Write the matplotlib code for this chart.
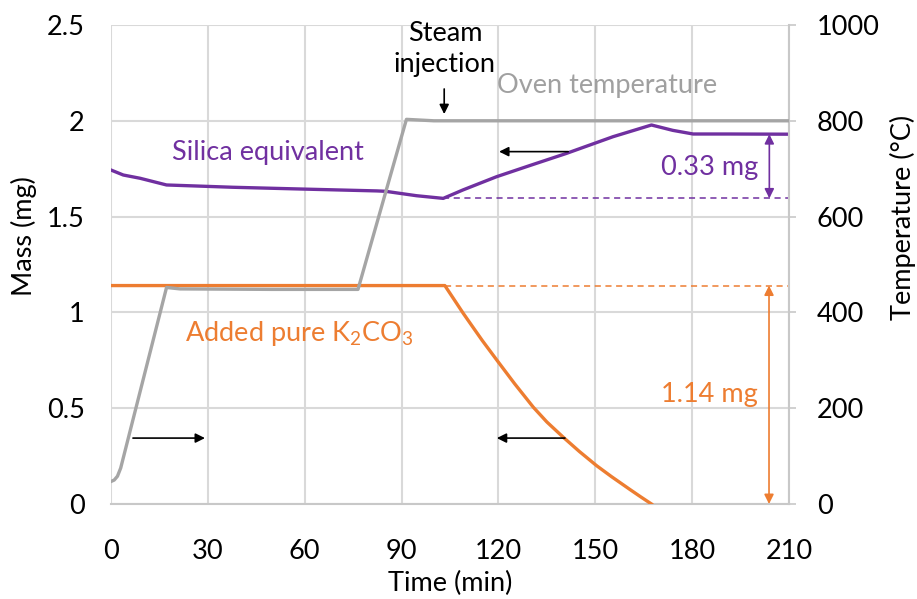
import matplotlib
matplotlib.use("Agg")
import matplotlib.pyplot as plt

plt.rcParams['font.family'] = ['Lato', 'DejaVu Sans']
plt.rcParams['mathtext.default'] = 'regular'

# ---- data ----
oven_time = [0, 1, 2, 3, 17.2, 21.4, 50, 76.5, 91.5, 100, 210]
oven_temp = [47, 50, 58, 75, 452, 449, 448, 448, 803, 800, 800]

silica_time = [0, 3.8, 9, 17.2, 37.8, 58.5, 82.3, 85, 94.6, 102.9, 109, 119.4,
               130, 141.1, 155.5, 167.4, 174, 180.3, 191.7, 210]
silica_mass = [1.743, 1.717, 1.70, 1.665, 1.653, 1.644, 1.634, 1.632, 1.609, 1.595,
               1.639, 1.708, 1.768, 1.830, 1.917, 1.978, 1.950, 1.931, 1.931, 1.930]

k2co3_time = [0, 103.4, 109.1, 112, 115, 119.9, 125, 130.8, 135, 140.1, 145,
              150.4, 155, 160.7, 164, 167.4]
k2co3_mass = [1.14, 1.14, 0.995, 0.925, 0.853, 0.742, 0.628, 0.505, 0.428, 0.348,
              0.275, 0.200, 0.143, 0.076, 0.038, 0.0]

x_ticks = [0, 30, 60, 90, 120, 150, 180, 210]
mass_ticks = [0, 0.5, 1, 1.5, 2, 2.5]
mass_tick_labels = ['0', '0.5', '1', '1.5', '2', '2.5']
temp_ticks = [0, 200, 400, 600, 800, 1000]

silica_min = 1.595
silica_end = 1.93
k2co3_start = 1.14

PURPLE = '#7030A0'
ORANGE = '#ED7D31'
GRAY = '#A5A5A5'
GRID = '#D9D9D9'
FS = 19.5

fig = plt.figure(figsize=(9.17, 5.99), dpi=100)
ax = fig.add_axes([0.12105, 0.1586, 0.7394, 0.7997])
ax2 = ax.twinx()

ax.set_xlim(0, 210)
ax.set_ylim(0, 2.5)
ax2.set_ylim(0, 1000)

ax.set_xticks(x_ticks)
ax.set_yticks(mass_ticks)
ax.set_yticklabels(mass_tick_labels)
ax2.set_yticks(temp_ticks)

ax.grid(True, color=GRID, lw=1.5)
ax.set_axisbelow(True)
for s in ['top', 'left', 'right']:
    ax.spines[s].set_visible(False)
ax.spines['bottom'].set_color('#C8C8C8')
ax.spines['bottom'].set_linewidth(1.5)
for s in ['top', 'left', 'bottom']:
    ax2.spines[s].set_visible(False)
ax2.spines['right'].set_color('#C8C8C8')
ax2.spines['right'].set_linewidth(1.5)

ax.tick_params(axis='both', length=0, labelsize=FS, colors='black')
ax.tick_params(axis='y', pad=19)
ax.tick_params(axis='x', pad=25)
ax2.tick_params(axis='y', length=5, width=1.2, color='#C8C8C8', direction='out',
                labelsize=FS, pad=15)

ax.set_xlabel('Time (min)', fontsize=FS, va='center')
ax.xaxis.set_label_coords(0.5, -0.166)
ax.set_ylabel('Mass (mg)', fontsize=FS, va='center')
ax.yaxis.set_label_coords(-0.128, 0.56)
ax2.set_ylabel('Temperature (°C)', fontsize=FS, va='center', rotation=90)
ax2.yaxis.set_label_coords(1.168, 0.598)

# ---- lines ----
ax.plot(silica_time, silica_mass, color=PURPLE, lw=2.4, solid_joinstyle='round', zorder=3)
ax.plot(k2co3_time, k2co3_mass, color=ORANGE, lw=2.4, solid_joinstyle='round', zorder=3)
ax2.plot(oven_time, oven_temp, color=GRAY, lw=2.4, solid_joinstyle='round', zorder=3)

# dashed reference lines
ax.plot([silica_time[9], 210], [silica_min, silica_min], color=PURPLE, lw=1.1,
        ls=(0, (4, 3)), zorder=2)
ax.plot([k2co3_time[1], 210], [k2co3_start, k2co3_start], color=ORANGE, lw=1.1,
        ls=(0, (4, 3)), zorder=2)

# ---- annotations ----
def arrow(x0, y0, x1, y1, color='black', style='-|>'):
    ax2.annotate('', xy=(x1, y1 * 400), xytext=(x0, y0 * 400),
                 arrowprops=dict(arrowstyle=style, color=color, lw=1.2,
                                 mutation_scale=14, shrinkA=0, shrinkB=0),
                 zorder=5)

arrow(6.8, 0.344, 29.1, 0.344)
arrow(140.6, 0.344, 119.5, 0.344)
arrow(141.6, 1.839, 120.2, 1.839)
arrow(103.2, 2.166, 103.2, 2.035)
arrow(203.9, silica_end, 203.9, silica_min, color=PURPLE, style='<|-|>')
arrow(203.8, k2co3_start, 203.8, 0, color=ORANGE, style='<|-|>')

ax.text(103.4, 2.375, 'Steam\ninjection', ha='center', va='center', fontsize=FS,
        color='black', linespacing=1.3)
ax.text(153.6, 2.182, 'Oven temperature', ha='center', va='center', fontsize=FS,
        color='#A0A0A0')
ax.text(48.6, 1.837, 'Silica equivalent', ha='center', va='center', fontsize=FS,
        color=PURPLE)
ax.text(58.2, 0.892, 'Added pure K$_2$CO$_3$', ha='center', va='center', fontsize=FS,
        color=ORANGE)
ax.text(185.5, 1.754, '0.33 mg', ha='center', va='center', fontsize=FS, color=PURPLE)
ax.text(185.2, 0.569, '1.14 mg', ha='center', va='center', fontsize=FS, color=ORANGE)

fig.savefig('out.png', dpi=100)
